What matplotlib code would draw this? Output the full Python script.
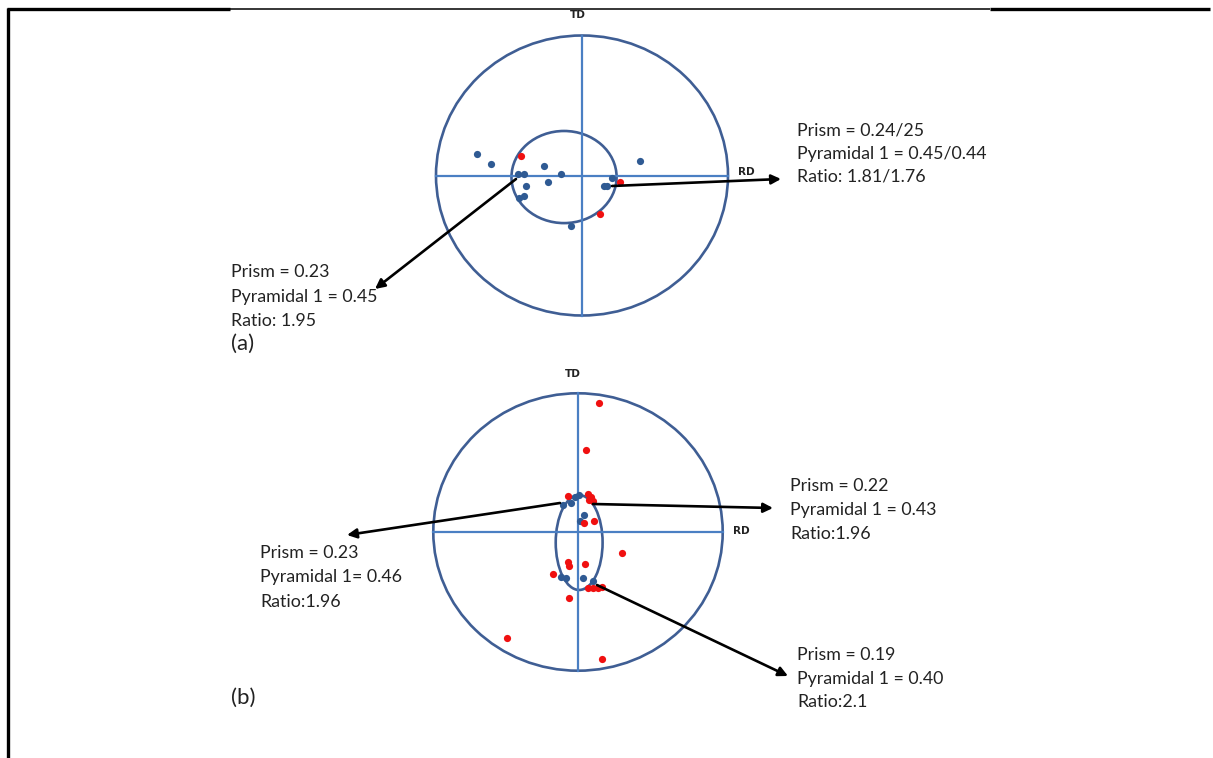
import matplotlib
matplotlib.use("Agg")
import matplotlib.pyplot as plt
from matplotlib.patches import Ellipse
import numpy as np

W, H = 1213, 758
DPI = 100

# ---------------- data (normalized pole-figure coordinates, unit circle) -------------
a_blue_x = [-0.717, -0.623, -0.436, -0.395, -0.386, -0.395, -0.429, -0.258, -0.235,
            -0.144, -0.075, 0.153, 0.169, 0.203, 0.397]
a_blue_y = [0.151, 0.080, 0.009, 0.009, -0.075, -0.144, -0.163, 0.070, -0.049,
            0.009, -0.359, -0.075, -0.075, -0.020, 0.104]
a_red_x = [-0.416, 0.260, 0.123]
a_red_y = [0.141, -0.044, -0.275]
a_inner = (-0.123, -0.011, 0.360, 0.329)   # centre x, centre y, half-width, half-height

b_red_x = [0.147, 0.055, -0.067, 0.069, 0.090, 0.104, 0.076, 0.113, 0.044, 0.302,
           -0.071, -0.062, 0.048, -0.171, -0.062, 0.071, 0.106, 0.140, 0.164, -0.489, 0.164]
b_red_y = [0.928, 0.591, 0.260, 0.274, 0.252, 0.224, 0.231, 0.079, 0.063, -0.154,
           -0.214, -0.245, -0.233, -0.303, -0.478, -0.402, -0.402, -0.402, -0.397, -0.766, -0.916]
b_blue_x = [-0.102, -0.050, -0.021, 0.009, 0.044, 0.014, -0.120, -0.085, 0.037, 0.106]
b_blue_y = [0.195, 0.207, 0.255, 0.267, 0.123, 0.079, -0.327, -0.334, -0.334, -0.353]
b_inner = (0.008, -0.076, 0.162, 0.342)

a_right_text = ["Prism = 0.24/25", "Pyramidal 1 = 0.45/0.44", "Ratio: 1.81/1.76"]
a_left_text = ["Prism = 0.23", "Pyramidal 1 = 0.45", "Ratio: 1.95"]
b_right_text = ["Prism = 0.22", "Pyramidal 1 = 0.43", "Ratio:1.96"]
b_left_text = ["Prism = 0.23", "Pyramidal 1= 0.46", "Ratio:1.96"]
b_low_text = ["Prism = 0.19", "Pyramidal 1 = 0.40", "Ratio:2.1"]

CIRC = "#3f5e94"
CROSS = "#4a7fc3"
BLUE_PT = "#2f5a93"
RED_PT = "#f01010"
TXT = "#222222"
FONT = ["Lato", "DejaVu Sans"]

fig = plt.figure(figsize=(W / DPI, H / DPI), dpi=DPI)
fig.patch.set_facecolor("white")


def panel(left, top, w, h, bx, by, rx, ry, inner):
    ax = fig.add_axes([left / W, 1 - (top + h) / H, w / W, h / H])
    ax.set_xlim(-1, 1)
    ax.set_ylim(-1, 1)
    ax.axis("off")
    ax.add_patch(Ellipse((0, 0), 2, 2, fill=False, ec=CIRC, lw=1.9, clip_on=False))
    ax.plot([-1, 1], [0, 0], color=CROSS, lw=1.6, clip_on=False)
    ax.plot([0, 0], [-1, 1], color=CROSS, lw=1.6, clip_on=False)
    cx, cy, hw, hh = inner
    ax.add_patch(Ellipse((cx, cy), 2 * hw, 2 * hh, fill=False, ec=CIRC, lw=1.9, clip_on=False))
    ax.scatter(bx, by, s=27, color=BLUE_PT, zorder=5, clip_on=False, linewidths=0)
    ax.scatter(rx, ry, s=27, color=RED_PT, zorder=5, clip_on=False, linewidths=0)
    return ax


panel(436, 35.5, 292, 280, a_blue_x, a_blue_y, a_red_x, a_red_y, a_inner)
panel(433.3, 393.3, 289.4, 277.4, b_blue_x, b_blue_y, b_red_x, b_red_y, b_inner)

# overlay in pixel coordinates for frame, text and arrows
ov = fig.add_axes([0, 0, 1, 1], zorder=10)
ov.set_xlim(0, W)
ov.set_ylim(H, 0)
ov.axis("off")
ov.patch.set_alpha(0)

# frame lines
ov.plot([7, 230], [9, 9], color="black", lw=2.4, solid_capstyle="butt")
ov.plot([230, 990], [8.5, 8.5], color="black", lw=1.1, solid_capstyle="butt")
ov.plot([990, 1210], [9, 9], color="black", lw=2.4, solid_capstyle="butt")
ov.plot([8, 8], [8, 758], color="black", lw=2.4, solid_capstyle="butt")

# axis labels
for (x, y, s) in [(578, 15, "TD"), (746, 172, "RD"), (573, 374, "TD"), (741, 531, "RD")]:
    ov.text(x, y, s, fontsize=7.5, fontweight="bold", ha="center", va="center",
            color="#222222", family="DejaVu Sans")


def block(x, ys, lines):
    for y, s in zip(ys, lines):
        ov.text(x, y, s, fontsize=12.8, ha="left", va="center", color=TXT, family=FONT)


block(797, [130, 154, 177], a_right_text)
block(231, [272, 297, 321], a_left_text)
block(790, [486, 510, 534], b_right_text)
block(260, [553, 577, 602], b_left_text)
block(797, [655, 679, 702], b_low_text)

ov.text(231, 344, "(a)", fontsize=16, ha="left", va="center", color=TXT, family=FONT)
ov.text(231, 698, "(b)", fontsize=16, ha="left", va="center", color=TXT, family=FONT)

arrows = [((612, 186), (781, 179)),
          ((516, 179), (375, 289)),
          ((560, 503), (347, 535)),
          ((593, 504), (773, 508)),
          ((597, 585), (788, 676))]
for (s, e) in arrows:
    ov.annotate("", xy=e, xytext=s,
                arrowprops=dict(arrowstyle="-|>", color="black", lw=1.9,
                                mutation_scale=14, shrinkA=0, shrinkB=0))

fig.savefig("out.png", dpi=DPI)
